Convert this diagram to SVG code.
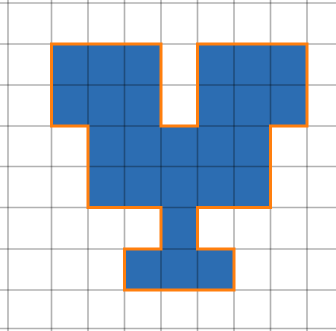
<svg xmlns="http://www.w3.org/2000/svg" width="336" height="331" viewBox="0 0 336 331">
<style>
.cell{fill:#2c6db2}
.grid line{stroke:#000;stroke-opacity:0.3;stroke-width:1.6}
.outline{fill:none;stroke:#ff7f0e;stroke-width:3;stroke-linejoin:miter}
</style>
<rect width="336" height="331" fill="#fff"/>
<g id="shape">
<path class="cell" d="M51.5,44 H161 V126 H197.5 V44 H307 V126 H270.5 V207.5 H197.5 V249 H234 V290 H124.5 V249 H161 V207.5 H88 V126 H51.5 Z"/>
</g>
<g id="grid" class="grid">
<line x1="8" y1="0" x2="8" y2="331"/>
<line x1="51.5" y1="0" x2="51.5" y2="331"/>
<line x1="88" y1="0" x2="88" y2="331"/>
<line x1="124.5" y1="0" x2="124.5" y2="331"/>
<line x1="161" y1="0" x2="161" y2="331"/>
<line x1="197.5" y1="0" x2="197.5" y2="331"/>
<line x1="234" y1="0" x2="234" y2="331"/>
<line x1="270.5" y1="0" x2="270.5" y2="331"/>
<line x1="307" y1="0" x2="307" y2="331"/>
<line x1="0" y1="3" x2="336" y2="3"/>
<line x1="0" y1="44" x2="336" y2="44"/>
<line x1="0" y1="85" x2="336" y2="85"/>
<line x1="0" y1="126" x2="336" y2="126"/>
<line x1="0" y1="166.5" x2="336" y2="166.5"/>
<line x1="0" y1="207.5" x2="336" y2="207.5"/>
<line x1="0" y1="249" x2="336" y2="249"/>
<line x1="0" y1="290" x2="336" y2="290"/>
<line x1="0" y1="328.5" x2="336" y2="328.5"/>
</g>
<g id="border">
<path class="outline" d="M51.5,44 H161 V126 H197.5 V44 H307 V126 H270.5 V207.5 H197.5 V249 H234 V290 H124.5 V249 H161 V207.5 H88 V126 H51.5 Z"/>
</g>
</svg>
